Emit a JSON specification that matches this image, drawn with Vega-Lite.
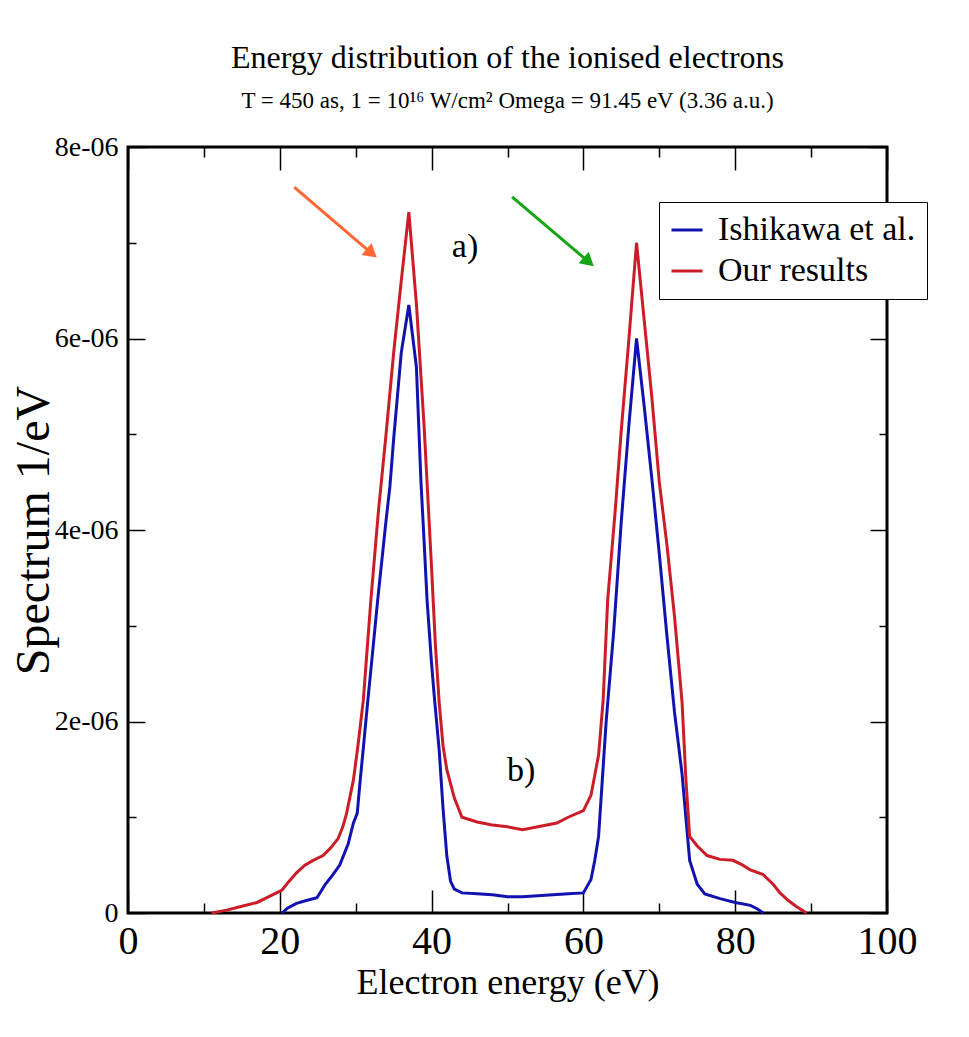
{
  "$schema": "https://vega.github.io/schema/vega-lite/v6.json",
  "width": 759,
  "height": 766,
  "autosize": {"type": "none"},
  "padding": {"left": 128, "top": 147, "right": 82, "bottom": 124},
  "background": "white",
  "title": {
    "text": "Energy distribution of the ionised electrons",
    "subtitle": "T = 450 as,  1 = 10¹⁶ W/cm²  Omega = 91.45 eV (3.36 a.u.)",
    "anchor": "middle",
    "font": "Liberation Serif",
    "fontSize": 32,
    "fontWeight": "normal",
    "color": "black",
    "subtitleFont": "Liberation Serif",
    "subtitleFontSize": 23,
    "subtitleColor": "black",
    "offset": 19,
    "subtitlePadding": 15
  },
  "config": {
    "view": {"stroke": "black", "strokeWidth": 3},
    "axis": {
      "domain": false,
      "grid": false,
      "tickColor": "black",
      "tickWidth": 1.5,
      "labelFont": "Liberation Serif",
      "titleFont": "Liberation Serif",
      "labelColor": "black",
      "titleColor": "black",
      "titleFontWeight": "normal",
      "labelFlush": false,
      "labelOverlap": false
    }
  },
  "resolve": {"axis": {"x": "independent", "y": "independent"}},
  "layer": [
    {
      "data": {
        "values": [
          {"series": "Ishikawa et al.", "E": 20.3, "S": 0},
          {"series": "Ishikawa et al.", "E": 21, "S": 0.05e-6},
          {"series": "Ishikawa et al.", "E": 22.2, "S": 0.1e-6},
          {"series": "Ishikawa et al.", "E": 23.5, "S": 0.13e-6},
          {"series": "Ishikawa et al.", "E": 24.9, "S": 0.16e-6},
          {"series": "Ishikawa et al.", "E": 26, "S": 0.3e-6},
          {"series": "Ishikawa et al.", "E": 27, "S": 0.4e-6},
          {"series": "Ishikawa et al.", "E": 27.9, "S": 0.5e-6},
          {"series": "Ishikawa et al.", "E": 29, "S": 0.72e-6},
          {"series": "Ishikawa et al.", "E": 29.7, "S": 0.94e-6},
          {"series": "Ishikawa et al.", "E": 30.2, "S": 1.04e-6},
          {"series": "Ishikawa et al.", "E": 30.6, "S": 1.39e-6},
          {"series": "Ishikawa et al.", "E": 31, "S": 1.72e-6},
          {"series": "Ishikawa et al.", "E": 31.6, "S": 2.22e-6},
          {"series": "Ishikawa et al.", "E": 32, "S": 2.54e-6},
          {"series": "Ishikawa et al.", "E": 32.9, "S": 3.27e-6},
          {"series": "Ishikawa et al.", "E": 34, "S": 4.1e-6},
          {"series": "Ishikawa et al.", "E": 34.5, "S": 4.45e-6},
          {"series": "Ishikawa et al.", "E": 35, "S": 4.95e-6},
          {"series": "Ishikawa et al.", "E": 36, "S": 5.85e-6},
          {"series": "Ishikawa et al.", "E": 37, "S": 6.35e-6},
          {"series": "Ishikawa et al.", "E": 38, "S": 5.7e-6},
          {"series": "Ishikawa et al.", "E": 38.6, "S": 4.5e-6},
          {"series": "Ishikawa et al.", "E": 39, "S": 3.9e-6},
          {"series": "Ishikawa et al.", "E": 39.4, "S": 3.27e-6},
          {"series": "Ishikawa et al.", "E": 40, "S": 2.6e-6},
          {"series": "Ishikawa et al.", "E": 40.4, "S": 2.22e-6},
          {"series": "Ishikawa et al.", "E": 41, "S": 1.7e-6},
          {"series": "Ishikawa et al.", "E": 41.5, "S": 1.1e-6},
          {"series": "Ishikawa et al.", "E": 42, "S": 0.6e-6},
          {"series": "Ishikawa et al.", "E": 42.5, "S": 0.33e-6},
          {"series": "Ishikawa et al.", "E": 43, "S": 0.25e-6},
          {"series": "Ishikawa et al.", "E": 44, "S": 0.21e-6},
          {"series": "Ishikawa et al.", "E": 46, "S": 0.2e-6},
          {"series": "Ishikawa et al.", "E": 48, "S": 0.19e-6},
          {"series": "Ishikawa et al.", "E": 50, "S": 0.17e-6},
          {"series": "Ishikawa et al.", "E": 52, "S": 0.17e-6},
          {"series": "Ishikawa et al.", "E": 54, "S": 0.18e-6},
          {"series": "Ishikawa et al.", "E": 56, "S": 0.19e-6},
          {"series": "Ishikawa et al.", "E": 58, "S": 0.2e-6},
          {"series": "Ishikawa et al.", "E": 60, "S": 0.21e-6},
          {"series": "Ishikawa et al.", "E": 61, "S": 0.35e-6},
          {"series": "Ishikawa et al.", "E": 61.5, "S": 0.55e-6},
          {"series": "Ishikawa et al.", "E": 62, "S": 0.8e-6},
          {"series": "Ishikawa et al.", "E": 62.5, "S": 1.4e-6},
          {"series": "Ishikawa et al.", "E": 63, "S": 2.0e-6},
          {"series": "Ishikawa et al.", "E": 64, "S": 2.95e-6},
          {"series": "Ishikawa et al.", "E": 65, "S": 4.1e-6},
          {"series": "Ishikawa et al.", "E": 66, "S": 5.1e-6},
          {"series": "Ishikawa et al.", "E": 67, "S": 6.0e-6},
          {"series": "Ishikawa et al.", "E": 68, "S": 5.3e-6},
          {"series": "Ishikawa et al.", "E": 69, "S": 4.55e-6},
          {"series": "Ishikawa et al.", "E": 70, "S": 3.75e-6},
          {"series": "Ishikawa et al.", "E": 71, "S": 2.9e-6},
          {"series": "Ishikawa et al.", "E": 72, "S": 2.1e-6},
          {"series": "Ishikawa et al.", "E": 73, "S": 1.45e-6},
          {"series": "Ishikawa et al.", "E": 73.5, "S": 1.0e-6},
          {"series": "Ishikawa et al.", "E": 74, "S": 0.55e-6},
          {"series": "Ishikawa et al.", "E": 75, "S": 0.3e-6},
          {"series": "Ishikawa et al.", "E": 76, "S": 0.2e-6},
          {"series": "Ishikawa et al.", "E": 78, "S": 0.15e-6},
          {"series": "Ishikawa et al.", "E": 80, "S": 0.11e-6},
          {"series": "Ishikawa et al.", "E": 82, "S": 0.08e-6},
          {"series": "Ishikawa et al.", "E": 83, "S": 0.04e-6},
          {"series": "Ishikawa et al.", "E": 83.7, "S": 0},
          {"series": "Our results", "E": 11, "S": 0},
          {"series": "Our results", "E": 13, "S": 0.03e-6},
          {"series": "Our results", "E": 15, "S": 0.07e-6},
          {"series": "Our results", "E": 17, "S": 0.11e-6},
          {"series": "Our results", "E": 18.3, "S": 0.16e-6},
          {"series": "Our results", "E": 19.3, "S": 0.2e-6},
          {"series": "Our results", "E": 20.3, "S": 0.24e-6},
          {"series": "Our results", "E": 21.2, "S": 0.33e-6},
          {"series": "Our results", "E": 22.2, "S": 0.42e-6},
          {"series": "Our results", "E": 23.3, "S": 0.5e-6},
          {"series": "Our results", "E": 24.4, "S": 0.55e-6},
          {"series": "Our results", "E": 25.7, "S": 0.6e-6},
          {"series": "Our results", "E": 26.7, "S": 0.68e-6},
          {"series": "Our results", "E": 27.7, "S": 0.78e-6},
          {"series": "Our results", "E": 28.3, "S": 0.9e-6},
          {"series": "Our results", "E": 28.8, "S": 1.04e-6},
          {"series": "Our results", "E": 29.7, "S": 1.39e-6},
          {"series": "Our results", "E": 30.3, "S": 1.75e-6},
          {"series": "Our results", "E": 31, "S": 2.22e-6},
          {"series": "Our results", "E": 32, "S": 3.27e-6},
          {"series": "Our results", "E": 33, "S": 4.2e-6},
          {"series": "Our results", "E": 34, "S": 5.0e-6},
          {"series": "Our results", "E": 35, "S": 5.85e-6},
          {"series": "Our results", "E": 36, "S": 6.6e-6},
          {"series": "Our results", "E": 37, "S": 7.32e-6},
          {"series": "Our results", "E": 38, "S": 6.36e-6},
          {"series": "Our results", "E": 39, "S": 5.1e-6},
          {"series": "Our results", "E": 40, "S": 3.6e-6},
          {"series": "Our results", "E": 40.5, "S": 2.8e-6},
          {"series": "Our results", "E": 41, "S": 2.2e-6},
          {"series": "Our results", "E": 41.5, "S": 1.75e-6},
          {"series": "Our results", "E": 42, "S": 1.5e-6},
          {"series": "Our results", "E": 43, "S": 1.2e-6},
          {"series": "Our results", "E": 44, "S": 1.0e-6},
          {"series": "Our results", "E": 46, "S": 0.95e-6},
          {"series": "Our results", "E": 48, "S": 0.92e-6},
          {"series": "Our results", "E": 50, "S": 0.9e-6},
          {"series": "Our results", "E": 52, "S": 0.87e-6},
          {"series": "Our results", "E": 54, "S": 0.9e-6},
          {"series": "Our results", "E": 56.5, "S": 0.94e-6},
          {"series": "Our results", "E": 58, "S": 1.0e-6},
          {"series": "Our results", "E": 60, "S": 1.07e-6},
          {"series": "Our results", "E": 61, "S": 1.23e-6},
          {"series": "Our results", "E": 62, "S": 1.65e-6},
          {"series": "Our results", "E": 62.6, "S": 2.22e-6},
          {"series": "Our results", "E": 63.2, "S": 3.27e-6},
          {"series": "Our results", "E": 64.2, "S": 4.21e-6},
          {"series": "Our results", "E": 65, "S": 5.05e-6},
          {"series": "Our results", "E": 66, "S": 6.0e-6},
          {"series": "Our results", "E": 67, "S": 7.0e-6},
          {"series": "Our results", "E": 68, "S": 6.2e-6},
          {"series": "Our results", "E": 69, "S": 5.4e-6},
          {"series": "Our results", "E": 70, "S": 4.5e-6},
          {"series": "Our results", "E": 71, "S": 3.85e-6},
          {"series": "Our results", "E": 72, "S": 3.1e-6},
          {"series": "Our results", "E": 73, "S": 2.2e-6},
          {"series": "Our results", "E": 73.5, "S": 1.4e-6},
          {"series": "Our results", "E": 74, "S": 0.8e-6},
          {"series": "Our results", "E": 75, "S": 0.7e-6},
          {"series": "Our results", "E": 76.3, "S": 0.6e-6},
          {"series": "Our results", "E": 78, "S": 0.56e-6},
          {"series": "Our results", "E": 79.7, "S": 0.55e-6},
          {"series": "Our results", "E": 81, "S": 0.5e-6},
          {"series": "Our results", "E": 82, "S": 0.45e-6},
          {"series": "Our results", "E": 83.7, "S": 0.4e-6},
          {"series": "Our results", "E": 85, "S": 0.3e-6},
          {"series": "Our results", "E": 85.9, "S": 0.21e-6},
          {"series": "Our results", "E": 87, "S": 0.13e-6},
          {"series": "Our results", "E": 88, "S": 0.07e-6},
          {"series": "Our results", "E": 89.4, "S": 0}
        ]
      },
      "mark": {"type": "line", "strokeWidth": 3},
      "encoding": {
        "x": {
          "field": "E", "type": "quantitative",
          "scale": {"domain": [0, 100], "nice": false},
          "axis": {
            "orient": "bottom", "values": [0, 20, 40, 60, 80, 100],
            "tickSize": -23, "labelPadding": 31, "labelFontSize": 40,
            "title": "Electron energy (eV)", "titleFontSize": 36, "titlePadding": 4
          }
        },
        "y": {
          "field": "S", "type": "quantitative",
          "scale": {"domain": [0, 8e-6], "nice": false},
          "axis": {
            "orient": "left", "values": [0, 2e-6, 4e-6, 6e-6, 8e-6],
            "tickSize": -17, "labelPadding": 27, "labelFontSize": 28,
            "labelExpr": "datum.value == 0 ? '0' : replace(format(datum.value, '.0e'), 'e-', 'e-0')",
            "title": "Spectrum 1/eV", "titleFontSize": 48, "titlePadding": -4
          }
        },
        "color": {
          "field": "series", "type": "nominal",
          "scale": {"domain": ["Ishikawa et al.", "Our results"], "range": ["#1212b0", "#cc1c28"]},
          "legend": {
            "title": null, "orient": "none", "legendX": 531, "legendY": 55,
            "symbolType": "stroke", "symbolStrokeWidth": 3, "symbolSize": 961,
            "labelFont": "Liberation Serif", "labelFontSize": 34, "labelColor": "black",
            "labelOffset": 14, "padding": 11, "rowPadding": 7,
            "strokeColor": "black", "fillColor": "white", "labelLimit": 400
          }
        }
      }
    },
    {
      "data": {"values": [{"E": 0, "S": 0}]},
      "mark": {"type": "point", "opacity": 0},
      "encoding": {
        "x": {
          "field": "E", "type": "quantitative",
          "scale": {"domain": [0, 100], "nice": false},
          "axis": {"orient": "bottom", "values": [10, 30, 50, 70, 90], "tickSize": -10, "labels": false, "title": null}
        },
        "y": {
          "field": "S", "type": "quantitative",
          "scale": {"domain": [0, 8e-6], "nice": false},
          "axis": {"orient": "left", "values": [1e-6, 3e-6, 5e-6, 7e-6], "tickSize": -8, "labels": false, "title": null}
        }
      }
    },
    {
      "data": {"values": [{"E": 0, "S": 0}]},
      "mark": {"type": "point", "opacity": 0},
      "encoding": {
        "x": {
          "field": "E", "type": "quantitative",
          "scale": {"domain": [0, 100], "nice": false},
          "axis": {"orient": "top", "values": [0, 20, 40, 60, 80, 100], "tickSize": -23, "labels": false, "title": null}
        },
        "y": {
          "field": "S", "type": "quantitative",
          "scale": {"domain": [0, 8e-6], "nice": false},
          "axis": {"orient": "right", "values": [0, 2e-6, 4e-6, 6e-6, 8e-6], "tickSize": -17, "labels": false, "title": null}
        }
      }
    },
    {
      "data": {"values": [{"E": 0, "S": 0}]},
      "mark": {"type": "point", "opacity": 0},
      "encoding": {
        "x": {
          "field": "E", "type": "quantitative",
          "scale": {"domain": [0, 100], "nice": false},
          "axis": {"orient": "top", "values": [10, 30, 50, 70, 90], "tickSize": -10, "labels": false, "title": null}
        },
        "y": {
          "field": "S", "type": "quantitative",
          "scale": {"domain": [0, 8e-6], "nice": false},
          "axis": {"orient": "right", "values": [1e-6, 3e-6, 5e-6, 7e-6], "tickSize": -8, "labels": false, "title": null}
        }
      }
    },
    {
      "data": {"values": [{"E": 44.4, "S": 6.96e-6, "t": "a)"}, {"E": 51.8, "S": 1.48e-6, "t": "b)"}]},
      "mark": {"type": "text", "font": "Liberation Serif", "fontSize": 34, "align": "center", "baseline": "middle", "color": "black"},
      "encoding": {
        "x": {"field": "E", "type": "quantitative", "scale": {"domain": [0, 100], "nice": false}, "axis": null},
        "y": {"field": "S", "type": "quantitative", "scale": {"domain": [0, 8e-6], "nice": false}, "axis": null},
        "text": {"field": "t"}
      }
    },
    {
      "data": {"values": [{"E": 21.9, "S": 7.58e-6, "E2": 32.1, "S2": 6.89e-6}]},
      "mark": {"type": "rule", "color": "#ff6633", "strokeWidth": 3},
      "encoding": {
        "x": {"field": "E", "type": "quantitative", "scale": {"domain": [0, 100], "nice": false}, "axis": null},
        "y": {"field": "S", "type": "quantitative", "scale": {"domain": [0, 8e-6], "nice": false}, "axis": null},
        "x2": {"field": "E2"},
        "y2": {"field": "S2"}
      }
    },
    {
      "data": {"values": [{"E2": 32.1, "S2": 6.89e-6}]},
      "mark": {"type": "point", "shape": "triangle-up", "filled": true, "color": "#ff6633", "opacity": 1, "size": 240, "angle": 130},
      "encoding": {
        "x": {"field": "E2", "type": "quantitative", "scale": {"domain": [0, 100], "nice": false}, "axis": null},
        "y": {"field": "S2", "type": "quantitative", "scale": {"domain": [0, 8e-6], "nice": false}, "axis": null}
      }
    },
    {
      "data": {"values": [{"E": 50.6, "S": 7.48e-6, "E2": 60.7, "S2": 6.8e-6}]},
      "mark": {"type": "rule", "color": "#15a515", "strokeWidth": 3},
      "encoding": {
        "x": {"field": "E", "type": "quantitative", "scale": {"domain": [0, 100], "nice": false}, "axis": null},
        "y": {"field": "S", "type": "quantitative", "scale": {"domain": [0, 8e-6], "nice": false}, "axis": null},
        "x2": {"field": "E2"},
        "y2": {"field": "S2"}
      }
    },
    {
      "data": {"values": [{"E2": 60.7, "S2": 6.8e-6}]},
      "mark": {"type": "point", "shape": "triangle-up", "filled": true, "color": "#15a515", "opacity": 1, "size": 240, "angle": 131},
      "encoding": {
        "x": {"field": "E2", "type": "quantitative", "scale": {"domain": [0, 100], "nice": false}, "axis": null},
        "y": {"field": "S2", "type": "quantitative", "scale": {"domain": [0, 8e-6], "nice": false}, "axis": null}
      }
    }
  ]
}
